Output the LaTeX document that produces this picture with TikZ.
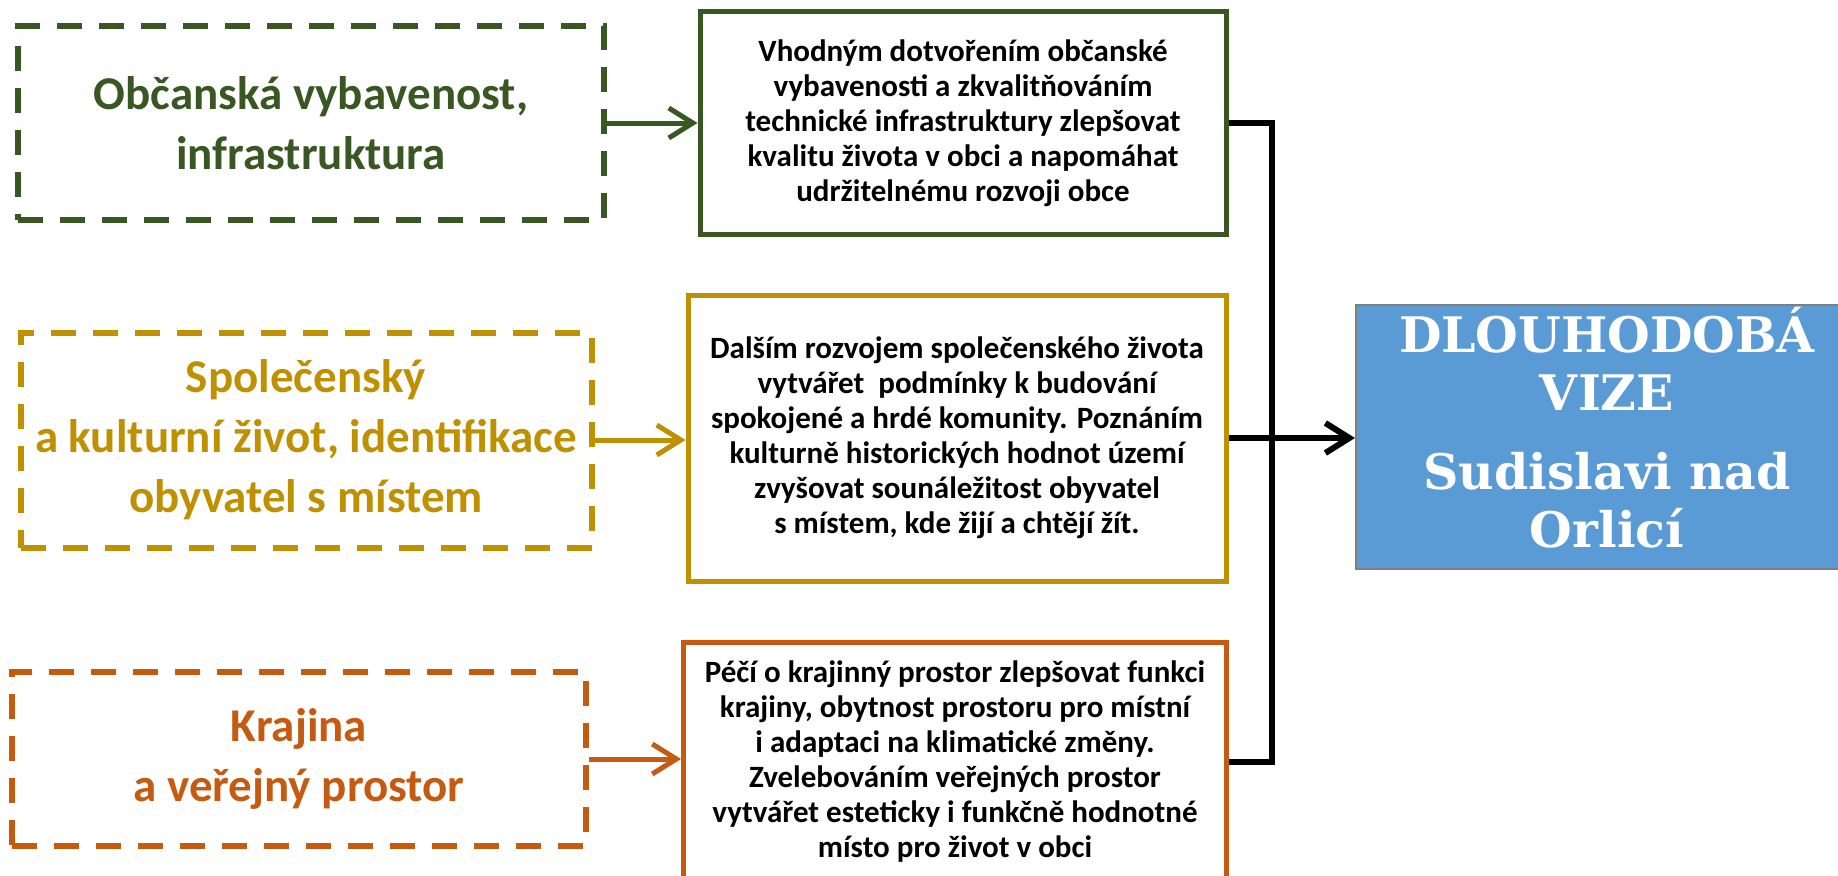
\documentclass[tikz,border=0pt]{standalone}
\usepackage{fontspec}
\setmainfont{Carlito}
\newfontfamily\slabfont{DejaVu Serif}
\usetikzlibrary{arrows.meta}
\definecolor{cgreen}{RGB}{56,87,35}
\definecolor{cgold}{RGB}{191,144,0}
\definecolor{corange}{RGB}{197,90,17}
\definecolor{cblue}{RGB}{91,155,213}
\definecolor{cgrey}{RGB}{127,127,127}
\tikzset{
  goalbox/.style={draw=#1,line width=6pt,dash pattern=on 25pt off 17pt,text=#1,
    font=\bfseries\fontsize{47}{60}\selectfont,align=center,inner sep=0pt},
  aimbox/.style={draw=#1,line width=5pt,fill=white,
    font=\bfseries\fontsize{31}{35}\selectfont,align=center,inner sep=0pt},
  feed/.style={draw=#1,line width=5pt,-{Straight Barb[length=24pt,width=30pt]}},
  joinline/.style={draw=black,line width=6pt,line join=miter},
  visionbox/.style={draw=cgrey,line width=2pt,fill=cblue,text=white,text depth=20pt,
    font=\slabfont\bfseries\fontsize{49}{58}\selectfont,align=center,inner sep=0pt},
}
\begin{document}
\begin{tikzpicture}[x=1pt,y=-1pt]
\useasboundingbox (0,0) rectangle (1838,875);
\clip (0,0) rectangle (1838,875);
\fill[white] (0,0) rectangle (1838,875);

\node[goalbox=cgreen,minimum width=586pt,minimum height=194pt] (A) at (311,123)
  {\fontsize{47}{70}\selectfont Občanská vybavenost,\\infrastruktura};
\node[goalbox=cgold,minimum width=571pt,minimum height=215pt] (C) at (306,440)
  {\fontsize{47}{53}\selectfont Společenský\\a kulturní život, identifikace\\obyvatel s místem};
\node[goalbox=corange,minimum width=574pt,minimum height=174pt] (E) at (299,759)
  {\fontsize{47}{72}\selectfont Krajina\\a veřejný prostor};

\node[aimbox=cgreen,minimum width=526pt,minimum height=222pt] (B) at (963,123)
  {Vhodným dotvořením občanské\\vybavenosti a zkvalitňováním\\technické infrastruktury zlepšovat\\kvalitu života v obci a napomáhat\\udržitelnému rozvoji obce};
\node[aimbox=cgold,minimum width=538pt,minimum height=286pt] (D) at (957,438)
  {Dalším rozvojem společenského života\\vytvářet\ \ podmínky k budování\\spokojené a hrdé komunity. Poznáním\\kulturně historických hodnot území\\zvyšovat sounáležitost obyvatel\\s místem, kde žijí a chtějí žít.};
\node[aimbox=corange,minimum width=543pt,minimum height=240pt] (F) at (955,762)
  {Péčí o krajinný prostor zlepšovat funkci\\krajiny, obytnost prostoru pro místní\\i adaptaci na klimatické změny.\\Zvelebováním veřejných prostor\\vytvářet esteticky i funkčně hodnotné\\místo pro život v obci};

\node[visionbox,minimum width=502pt,minimum height=264pt] (V) at (1607,437)
  {DLOUHODOBÁ\\VIZE\\[21pt]Sudislavi nad\\Orlicí};

\draw[feed=cgreen] (A.east) -- (A.east -| B.west);
\draw[feed=cgold] (C.east) -- (C.east -| D.west);
\draw[feed=corange] (E.east) -- (E.east -| F.west);

\coordinate (J) at (1272,440);
\draw[joinline] (B.east) -| (J) |- (F.east);
\draw[joinline,-{Straight Barb[length=24pt,width=30pt]}] (D.east) -- (D.east -| V.west);
\end{tikzpicture}
\end{document}
